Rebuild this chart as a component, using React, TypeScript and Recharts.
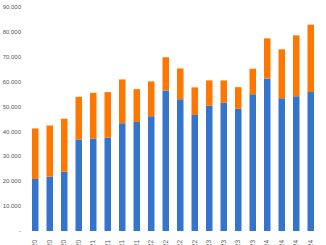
import { Bar, BarChart, XAxis, YAxis } from "recharts";

const quarters = [
  "Q1 2020", "Q2 2020", "Q3 2020", "Q4 2020",
  "Q1 2021", "Q2 2021", "Q3 2021", "Q4 2021",
  "Q1 2022", "Q2 2022", "Q3 2022", "Q4 2022",
  "Q1 2023", "Q2 2023", "Q3 2023", "Q4 2023",
  "Q1 2024", "Q2 2024", "Q3 2024", "Q4 2024",
];

const blueValues = [
  20900, 21800, 23800, 36700, 37100, 37500, 43300, 43800, 46100, 56500,
  52900, 46600, 50300, 51500, 49100, 54900, 61300, 53300, 54100, 55800,
];

const orangeValues = [
  20300, 20600, 21300, 17200, 18400, 18300, 17600, 13200, 14000, 13300,
  12400, 11100, 10200, 9000, 8700, 10300, 16100, 19700, 24500, 27100,
];

const yTicks = [0, 10000, 20000, 30000, 40000, 50000, 60000, 70000, 80000, 90000];

const data = quarters.map((q, i) => ({
  quarter: q,
  blue: blueValues[i],
  orange: orangeValues[i],
}));

const formatY = (v: number) =>
  v === 0 ? "-" : v.toLocaleString("de-DE");

const QuarterTick = ({ x, y, payload }: any) => (
  <text
    transform={`translate(${x + 2},${y + 1}) rotate(-90)`}
    textAnchor="end"
    fontSize={6.5}
    fill="#595959"
    fontFamily="Liberation Sans, Arial, sans-serif"
  >
    {payload.value}
  </text>
);

export default function App() {
  return (
    <div style={{ position: "absolute", left: 0, top: 0 }}>
      <BarChart
        width={326}
        height={245}
        data={data}
        margin={{ top: 7, right: 8, bottom: 0, left: 0 }}
      >
        <XAxis
          dataKey="quarter"
          height={14}
          axisLine={false}
          tickLine={false}
          interval={0}
          tick={<QuarterTick />}
        />
        <YAxis
          width={28}
          domain={[0, 90000]}
          ticks={yTicks}
          tickFormatter={formatY}
          axisLine={false}
          tickLine={false}
          tickSize={0}
          tickMargin={7}
          tick={{ fontSize: 6, fill: "#595959", fontFamily: "Liberation Sans, Arial, sans-serif" }}
        />
        <Bar dataKey="blue" stackId="a" fill="#3474CC" barSize={6.5} isAnimationActive={false} />
        <Bar dataKey="orange" stackId="a" fill="#FF7700" barSize={6.5} isAnimationActive={false} />
      </BarChart>
    </div>
  );
}
